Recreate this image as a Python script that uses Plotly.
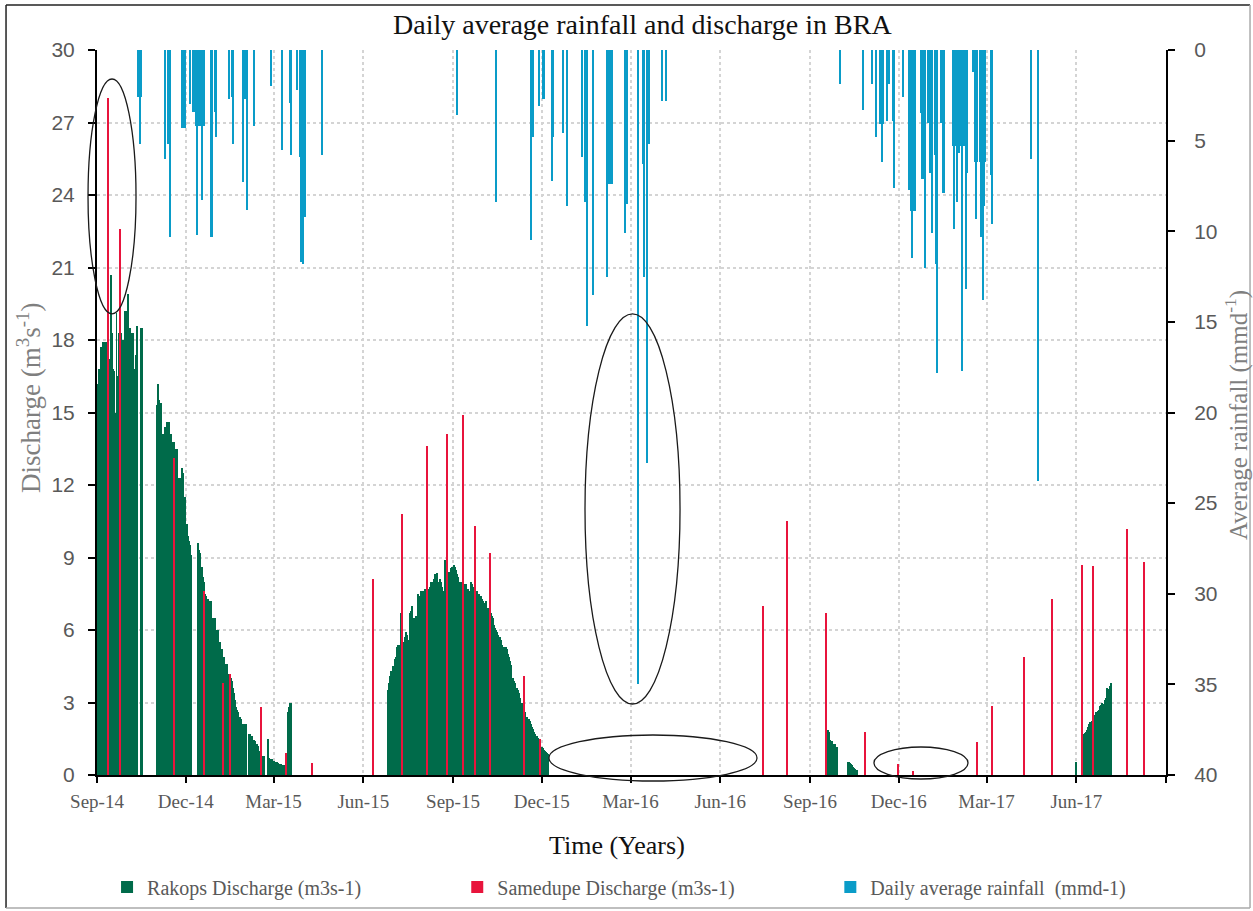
import pandas as pd
import plotly.graph_objects as go

# ---------------- data ----------------
# Rakops discharge (m3/s), daily values per continuous run of records
RAKOPS_2014_START = "2014-09-01"
RAKOPS_2014 = [16.2, 16.2, 16.8, 16.8, 17.7, None, 17.9, 17.9, 17.9, 17.8,
               17.9, 17.1, 17.2, 17.2, 20.7, 18.3, 16.8, 16.7, 15.0, 15.0,
               19.1, 16.5, 16.5, 18.3, 21.7, 18.3, 18.0, 18.0, 18.0, 19.2,
               19.2, 2.0, 19.9, 18.5, 18.5, 18.3, 18.3, 18.3, 16.8, 16.6,
               17.4, 18.6, None, None, None, 18.5, 18.5]

RAKOPS_2015A_START = "2014-11-02"
RAKOPS_2015A = [15.3, 16.2, 15.5, 15.4, 15.4, 14.1, 14.1, None, 14.4, 14.4,
                14.6, 14.6, 14.6, 14.1, 14.1, 13.6, 13.8, 13.8, 13.2, 13.5,
                13.5, None, 12.3, 12.3, 11.7, 12.7, 12.5, 11.3, 11.5, 10.4,
                10.4, 9.9, 9.7, 9.5, 9.1, None, None, None, None, None,
                None, None,
                9.6, 9.3, 9.2, 8.6, 8.6, 8.2, 8.0, 7.5, 7.4, 7.3,
                7.3, 7.2, 7.2, 7.2, None, 6.5, 6.5, 6.5, 6.0, 6.0,
                6.0, 5.5, 5.5, 5.2, 5.2, 4.9, 4.9, 4.5, 4.6, 4.6,
                4.2, 4.2, 4.2, 4.0, 3.9, 3.6, 3.4, 3.1, 2.9, 2.8, 2.7,
                2.6, 2.4, 2.4, 2.3, 2.1, 2.0, 2.1, 2.1, 2.1, None,
                None, 1.7, 1.7, 1.6, 1.6, 1.45, 1.45, 1.4, 1.3, 1.3, 1.2,
                1.0, 1.0, 0.8, 0.8, 0.8, 0.8, None, None, None, 1.5,
                0.7, 0.65, 0.65, 0.65, 0.6, 0.6, 0.6, 0.55, 0.55, 0.55,
                0.5, None, 0.45, 0.45, 0.4, 0.4, 0.4, 0.35, None, None,
                2.6, 2.8, 3.0, 3.0]

RAKOPS_2015B_START = "2015-06-26"
RAKOPS_2015B = [3.5, 3.8, 4.1, 4.3, 4.3, 4.5, 4.4, None, 4.8, 4.9,
                5.3, 5.4, None, 5.4, 6.7, 6.2, 5.4, 5.5, 5.7, 5.9,
                5.8, 5.4, 5.6, 6.7, 6.8, 7.0, 6.5, 6.5, 6.4, 6.6,
                6.5, 7.5, 7.4, 7.3, 7.6, 7.5, 7.6, 7.6, 7.7, 7.6,
                7.5, 7.7, 7.7, 7.8, 8.0, 7.9, 8.0, 8.1, 7.8, 8.3,
                8.2, 8.35, 8.0, 8.0, 8.1, 8.0, 7.8, 7.5, 7.6, 8.9,
                8.3, 8.2, 8.25, 8.4, 8.3, 8.55, 8.6, 8.6, 8.7, 8.6,
                8.5, 8.3, 8.2, 8.0, 8.0, 7.9, 8.0, 8.1, 7.8, 7.9,
                7.9, 7.6, 7.7, 7.6, 2.7,
                8.0, 7.9, 7.8, 7.8, 7.6, 7.7, 7.6, 7.6, 7.5, 7.5,
                7.4, 7.4, 7.3, 7.2, 7.1, 7.1, 7.2, 2.3,
                6.9, 6.9, 6.8, 6.7, 6.6, 6.5, 6.2, 6.1, 6.0, 5.9,
                5.8, 5.7, 5.7, 5.6, 5.4, 5.3, 5.3, 5.2, 5.3, 5.2,
                5.0, 4.9, 4.7, 4.55, None,
                4.0, 4.0, 3.9, 3.8, 3.6, 3.6, 3.5, 3.4, 3.2, 3.0,
                3.0, 2.9, 2.7, 2.6, 2.4, 2.4, 2.3, 2.3, 2.25, 2.1,
                2.0, 1.9, 1.8, 1.7, 1.6, 1.6, 1.55, 1.5, 1.2, 1.15,
                1.15, 1.1, 1.05, 1.0, 0.95, 0.9, 0.85]

RAKOPS_2016A_START = "2016-09-18"
RAKOPS_2016A = [1.8, 1.85, 1.8, 1.7, 1.45, 1.4, 1.4, 1.3, 1.3, 1.3, 1.15, 1.15]

RAKOPS_2016B_START = "2016-10-10"
RAKOPS_2016B = [0.55, 0.55, 0.5, 0.45, 0.4, 0.35, 0.3, 0.25, 0.2, 0.2]

RAKOPS_2017A_START = "2017-06-01"
RAKOPS_2017A = [0.55]

RAKOPS_2017B_START = "2017-06-07"
RAKOPS_2017B = [1.55, 1.6, 1.7, 1.75, 1.8, 1.85, 2.0, 2.1, 2.2, 2.2,
                2.25, 2.3, 2.4, 2.5, 2.6, 2.6, 2.65, 2.7, 2.85, 2.9,
                3.0, 2.95, 2.95, 3.1, 3.2, 3.3, 3.6, 3.55, 3.4, 3.7, 3.8]

# Samedupe discharge (m3/s)
SAMEDUPE_DATES = ["2014-09-12", "2014-09-25", "2014-11-19", "2014-12-20",
                  "2015-01-08", "2015-01-16", "2015-02-16", "2015-03-14",
                  "2015-04-10", "2015-06-11", "2015-07-11", "2015-08-05",
                  "2015-08-26", "2015-09-11", "2015-09-24", "2015-10-09",
                  "2015-11-13", "2015-11-29", "2016-07-15", "2016-08-09",
                  "2016-09-18", "2016-10-28", "2016-11-30", "2016-12-16",
                  "2017-02-19", "2017-03-07", "2017-04-09", "2017-05-07",
                  "2017-06-07", "2017-06-18", "2017-07-23", "2017-08-10"]
SAMEDUPE_Q = [28.0, 22.6, 13.1, 7.6,
              3.8, 4.2, 2.8, 0.9,
              0.5, 8.1, 10.8, 13.6,
              14.1, 14.9, 10.3, 9.2,
              4.1, 1.5, 7.0, 10.5,
              6.7, 1.8, 0.45, 0.15,
              1.35, 2.85, 4.9, 7.3,
              8.7, 8.65, 10.2, 8.8]

# Daily average rainfall (mm/day)
RAIN_DATES = ["2014-10-13", "2014-10-14", "2014-10-15", "2014-10-16",
              "2014-11-10", "2014-11-13", "2014-11-15",
              "2014-11-27", "2014-11-28", "2014-11-29", "2014-11-30",
              "2014-12-05",
              "2014-12-09", "2014-12-10", "2014-12-11", "2014-12-12",
              "2014-12-13", "2014-12-14", "2014-12-15", "2014-12-16",
              "2014-12-17", "2014-12-18", "2014-12-19", "2014-12-20",
              "2014-12-27", "2014-12-28", "2014-12-31", "2015-01-01",
              "2015-01-14", "2015-01-18", "2015-01-19", "2015-01-29",
              "2015-01-31", "2015-02-02", "2015-02-09", "2015-02-27",
              "2015-03-10", "2015-03-18", "2015-03-19", "2015-03-25",
              "2015-03-28", "2015-03-29", "2015-03-30", "2015-03-31",
              "2015-04-01", "2015-04-02", "2015-04-20",
              "2015-09-05", "2015-10-15", "2015-11-20", "2015-11-22",
              "2015-11-28", "2015-12-02", "2015-12-03", "2015-12-12",
              "2015-12-13", "2015-12-23", "2015-12-27", "2016-01-11",
              "2016-01-14", "2016-01-15", "2016-01-17", "2016-01-23",
              "2016-02-06", "2016-02-07", "2016-02-09", "2016-02-11",
              "2016-02-24", "2016-02-25", "2016-02-27", "2016-03-09",
              "2016-03-14", "2016-03-15", "2016-03-18", "2016-03-19",
              "2016-03-20", "2016-04-02", "2016-04-07",
              "2016-10-02", "2016-10-25", "2016-11-04", "2016-11-08",
              "2016-11-12", "2016-11-14", "2016-11-15", "2016-11-19",
              "2016-11-21", "2016-11-25", "2016-11-26", "2016-12-05",
              "2016-12-12", "2016-12-14", "2016-12-15", "2016-12-16",
              "2016-12-18", "2016-12-24", "2016-12-25", "2016-12-26",
              "2016-12-28", "2016-12-31", "2017-01-02", "2017-01-04",
              "2017-01-07", "2017-01-08", "2017-01-09", "2017-01-13",
              "2017-01-15", "2017-01-17", "2017-01-26", "2017-01-27",
              "2017-01-28", "2017-01-30", "2017-01-31", "2017-02-01",
              "2017-02-02", "2017-02-04", "2017-02-05", "2017-02-06",
              "2017-02-08", "2017-02-09", "2017-02-15", "2017-02-17",
              "2017-02-18", "2017-02-19", "2017-02-22", "2017-02-23",
              "2017-02-25", "2017-02-26", "2017-02-27", "2017-02-28",
              "2017-03-06", "2017-03-07", "2017-04-16", "2017-04-23"]
RAIN_MM = [2.6, 2.6, 5.2, 2.6,
           6.0, 5.2, 10.3,
           4.3, 2.2, 4.3, 4.3,
           3.0,
           3.4, 3.4, 3.4, 4.2,
           10.2, 4.2, 4.2, 4.2,
           4.2, 8.3, 4.2, 4.2,
           10.3, 10.3, 3.4, 4.8,
           2.7, 2.6, 5.2, 7.3,
           2.7, 8.8, 4.2, 2.0,
           5.5, 2.9, 5.8, 2.2,
           5.9, 11.7, 5.9, 11.8,
           3.5, 9.2, 5.8,
           3.6, 8.4, 10.5, 4.8,
           3.1, 2.7, 2.7, 7.2,
           4.8, 4.6, 8.6, 5.9,
           8.4, 8.4, 15.2, 13.5,
           12.5, 7.4, 7.4, 7.4,
           10.1, 3.4, 8.5, 35.0,
           6.3, 12.5, 22.8, 2.9,
           5.2, 2.8, 2.8,
           1.9, 3.3, 1.9, 4.8,
           4.1, 6.2, 4.1, 3.9,
           1.9, 3.9, 7.6, 2.6,
           7.7, 8.9, 11.5, 8.9,
           8.9, 3.5, 7.1, 7.1,
           12.0, 4.0, 6.8, 10.1,
           5.8, 11.8, 17.8, 4.0,
           7.9, 7.9, 5.3, 9.9,
           5.3, 8.4, 5.3, 5.7,
           5.3, 17.7, 5.3, 5.3,
           13.2, 6.8, 1.2, 6.2,
           9.3, 6.2, 6.2, 10.3,
           13.8, 6.2, 8.6, 6.2,
           6.9, 9.6, 6.0, 23.8]

X_TICKS = ["2014-09-01", "2014-12-01", "2015-03-01", "2015-06-01",
           "2015-09-01", "2015-12-01", "2016-03-01", "2016-06-01",
           "2016-09-01", "2016-12-01", "2017-03-01", "2017-06-01",
           "2017-09-01"]
X_TICK_TEXT = ["Sep-14", "Dec-14", "Mar-15", "Jun-15", "Sep-15", "Dec-15",
               "Mar-16", "Jun-16", "Sep-16", "Dec-16", "Mar-17", "Jun-17", ""]

# ---------------- assemble daily Rakops series ----------------
rakops_runs = [
    (RAKOPS_2014_START, RAKOPS_2014),
    (RAKOPS_2015A_START, RAKOPS_2015A),
    (RAKOPS_2015B_START, RAKOPS_2015B),
    (RAKOPS_2016A_START, RAKOPS_2016A),
    (RAKOPS_2016B_START, RAKOPS_2016B),
    (RAKOPS_2017A_START, RAKOPS_2017A),
    (RAKOPS_2017B_START, RAKOPS_2017B),
]
rakops_x, rakops_y = [], []
for start, vals in rakops_runs:
    days = pd.date_range(start, periods=len(vals), freq="D")
    rakops_x += [d.strftime("%Y-%m-%d") for d in days]
    rakops_y += vals

DAY_MS = 86400000
GREEN = "#006B4A"
RED = "#E8143C"
BLUE = "#0A9CC8"
GREY = "#595959"
SERIF = "Liberation Serif, Times New Roman, serif"
SANS = "Liberation Sans, Arial, sans-serif"

fig = go.Figure()
fig.add_trace(go.Bar(
    x=rakops_x, y=rakops_y, width=DAY_MS, name="Rakops Discharge (m3s-1)",
    marker=dict(color=GREEN, line=dict(width=0)), legend="legend",
))
fig.add_trace(go.Bar(
    x=SAMEDUPE_DATES, y=SAMEDUPE_Q, width=1.3 * DAY_MS,
    name="Samedupe Discharge (m3s-1)",
    marker=dict(color=RED, line=dict(width=0)), legend="legend2",
))
fig.add_trace(go.Bar(
    x=RAIN_DATES, y=RAIN_MM, width=1.3 * DAY_MS, yaxis="y2",
    name="Daily average rainfall  (mmd-1)",
    marker=dict(color=BLUE, line=dict(width=0)), legend="legend3",
))

legend_common = dict(orientation="h", yanchor="middle", y=-0.1545,
                     xanchor="left", bgcolor="rgba(0,0,0,0)",
                     font=dict(family=SERIF, size=20, color=GREY))

# outlines drawn around notable events
ellipses = [
    (-0.0084, 0.636, 0.0365, 0.960),
    (0.4565, 0.0979, 0.5454, 0.636),
    (0.4228, -0.0083, 0.6174, 0.0552),
    (0.7268, -0.0055, 0.8148, 0.0386),
]
shapes = [dict(type="circle", xref="paper", yref="paper",
               x0=a, y0=b, x1=c, y1=d,
               line=dict(color="#1a1a1a", width=1.3), layer="above")
          for a, b, c, d in ellipses]

# chart frame
fx0, fx1, fy0, fy1 = -0.0851, 1.0786, -0.1834, 1.0621
shapes += [
    dict(type="line", xref="paper", yref="paper", x0=fx0, y0=fy1, x1=fx1, y1=fy1,
         line=dict(color="#222222", width=1.5)),
    dict(type="line", xref="paper", yref="paper", x0=fx0, y0=fy0, x1=fx0, y1=fy1,
         line=dict(color="#222222", width=1.5)),
    dict(type="line", xref="paper", yref="paper", x0=fx1, y0=fy0, x1=fx1, y1=fy1,
         line=dict(color="#aaaaaa", width=1.5)),
    dict(type="line", xref="paper", yref="paper", x0=fx0, y0=fy0, x1=fx1, y1=fy0,
         line=dict(color="#aaaaaa", width=1.5)),
]

annotations = [
    dict(text="Daily average rainfall and discharge in BRA", xref="paper",
         yref="paper", x=0.51, y=1.0345, xanchor="center", yanchor="middle",
         showarrow=False, font=dict(family=SERIF, size=28, color="#111111")),
    dict(text="Time (Years)", xref="paper", yref="paper", x=0.4864, y=-0.0966,
         xanchor="center", yanchor="middle", showarrow=False,
         font=dict(family=SERIF, size=26, color="#111111")),
    dict(text="Discharge (m<sup>3</sup>s<sup>-1</sup>)", xref="paper",
         yref="paper", x=-0.0636, y=0.52, xanchor="center", yanchor="middle",
         textangle=-90, showarrow=False,
         font=dict(family=SERIF, size=27, color="#7f7f7f")),
    dict(text="Average rainfall (mmd<sup>-1</sup>)", xref="paper",
         yref="paper", x=1.0664, y=0.4966, xanchor="center", yanchor="middle",
         textangle=-90, showarrow=False,
         font=dict(family=SERIF, size=25, color="#7f7f7f")),
]

fig.update_layout(
    width=1253, height=911, autosize=False,
    margin=dict(l=97, r=87, t=50, b=136, autoexpand=False),
    paper_bgcolor="white", plot_bgcolor="white",
    barmode="overlay", bargap=0,
    showlegend=True,
    legend=dict(legend_common, x=0.0094),
    legend2=dict(legend_common, x=0.337),
    legend3=dict(legend_common, x=0.686),
    xaxis=dict(
        type="date", range=["2014-09-01", "2017-09-01"],
        tickmode="array", tickvals=X_TICKS, ticktext=X_TICK_TEXT,
        showline=True, linecolor="black", linewidth=2,
        ticks="outside", ticklen=6, tickwidth=2, tickcolor="black",
        showgrid=True, gridcolor="#d4d4d4", griddash="dot", gridwidth=1.5,
        tickfont=dict(family=SERIF, size=19, color=GREY),
        ticklabelstandoff=2, zeroline=False,
    ),
    yaxis=dict(
        range=[0, 30], dtick=3, tick0=0,
        showline=True, linecolor="black", linewidth=2,
        ticks="outside", ticklen=7, tickwidth=2, tickcolor="black",
        showgrid=True, gridcolor="#d4d4d4", griddash="dot", gridwidth=1.5,
        tickfont=dict(family=SANS, size=21, color=GREY),
        ticklabelstandoff=9, zeroline=False,
    ),
    yaxis2=dict(
        range=[40, 0], dtick=5, tick0=0, overlaying="y", side="right",
        showline=True, linecolor="black", linewidth=2,
        ticks="outside", ticklen=7, tickwidth=2, tickcolor="black",
        showgrid=False, zeroline=False,
        tickfont=dict(family=SANS, size=21, color=GREY),
        ticklabelstandoff=15,
    ),
    shapes=shapes,
    annotations=annotations,
)

fig.write_html("out.html")
